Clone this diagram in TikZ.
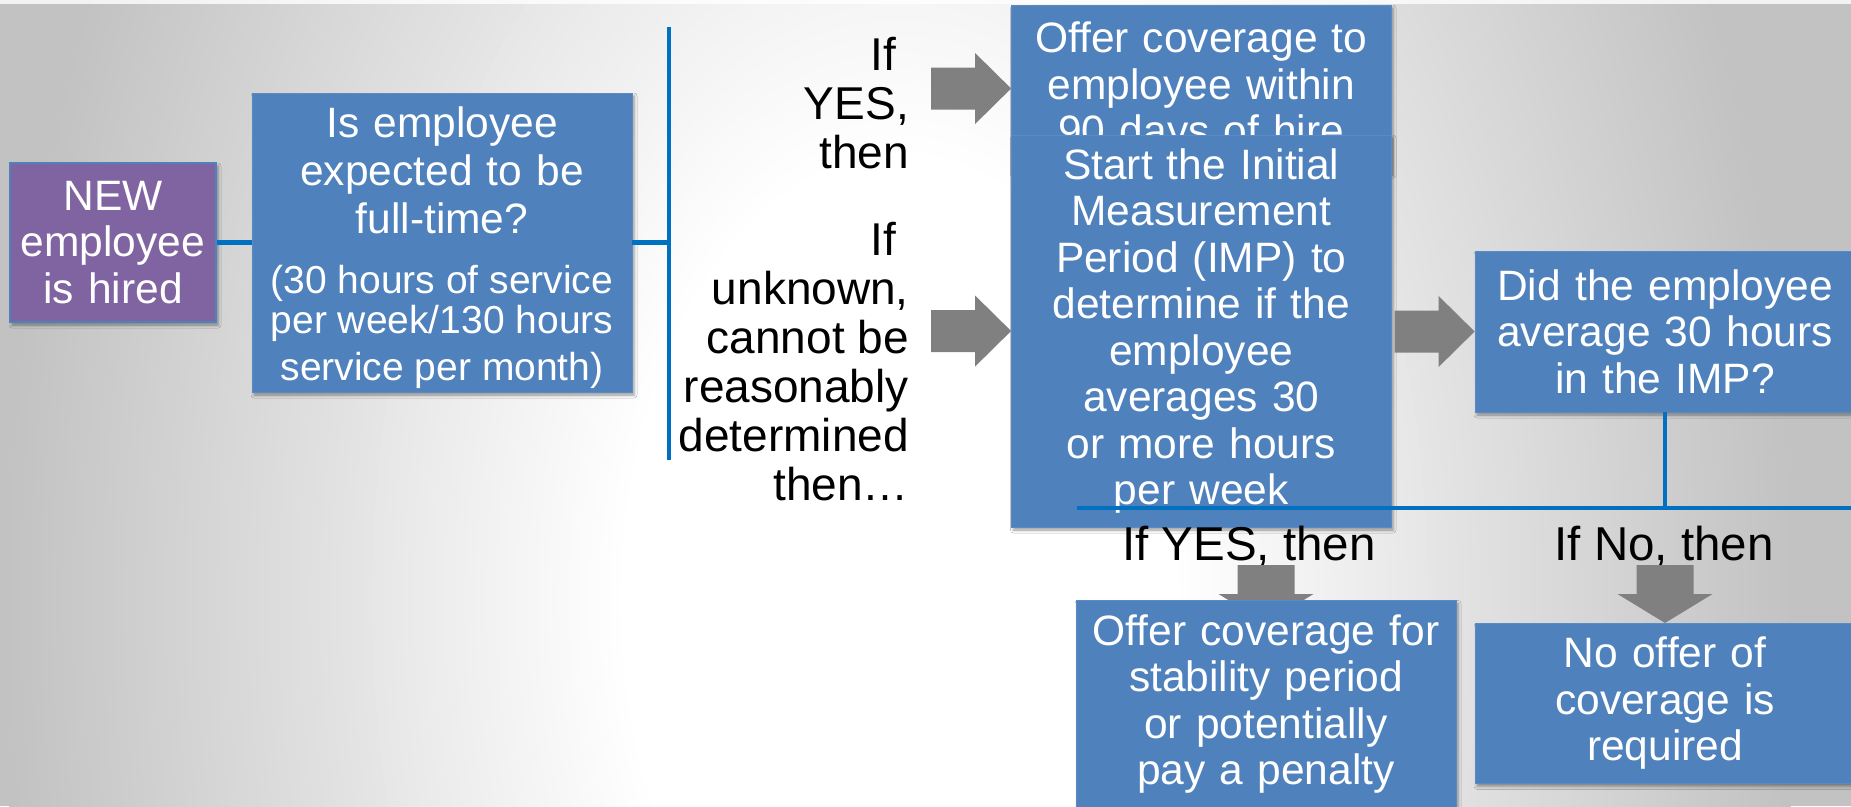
\documentclass[tikz,border=0pt]{standalone}
\usepackage{fontspec}
\setmainfont{Liberation Sans}
\usetikzlibrary{calc,shadows.blur}

\definecolor{boxblue}{HTML}{4F81BD}
\definecolor{boxedge}{HTML}{5B8BC4}
\definecolor{newpurple}{HTML}{8064A2}
\definecolor{linkblue}{HTML}{0070C0}
\definecolor{arrowgrey}{HTML}{808080}
\definecolor{bggrey}{HTML}{C2C2C2}

\newcommand\boxfont{\fontsize{42.5}{46.5}\selectfont}
\newcommand\labelfont{\fontsize{46}{49}\selectfont}
\newcommand\outfont{\fontsize{47.5}{50}\selectfont}

% grey block arrow pointing right, tip at #1
\newcommand\rblockarrow[1]{%
  \fill[arrowgrey] (#1) ++(-80,-21) -- ++(44,0) -- ++(0,-14.5) -- (#1)
    -- ++(-36,35.5) -- ++(0,-14.5) -- ++(-44,0) -- cycle;}
% grey block arrow pointing down, tip at #1
\newcommand\dblockarrow[1]{%
  \fill[arrowgrey] (#1) ++(-28.5,-58) -- ++(57,0) -- ++(0,29) -- ++(19,0) -- (#1)
    -- ++(-47.5,-29) -- ++(19,0) -- cycle;}

\tikzset{
  card/.style={fill=boxblue, draw=boxedge, line width=0.8pt, inner sep=0pt,
    align=center, text=white, font=\boxfont,
    blur shadow={shadow xshift=2pt, shadow yshift=-3pt, shadow blur radius=3pt, shadow opacity=40}},
  newcard/.style={card, fill=newpurple, draw=boxblue, line width=1.5pt},
  cardtext/.style={inner sep=0pt, align=center, text=white, text width=370pt, font=\boxfont},
  link/.style={draw=linkblue, line width=4.5pt},
  lbl/.style={inner sep=0pt, align=right, font=\labelfont, text=black},
  outlbl/.style={inner sep=0pt, font=\outfont, text=black, anchor=base},
}

\begin{document}
\begin{tikzpicture}[x=1pt, y=-1pt]
\useasboundingbox (0,0) rectangle (1851,806);

% background: grey edges fading to a white glow (stacked ellipses)
\begin{scope}
  \clip (0,0) rectangle (1851,806);
  \fill[bggrey] (0,0) rectangle (1851,806);
  \foreach \i in {0,...,60} {
    \pgfmathsetmacro\rx{900-\i*10.3333}
    \pgfmathsetmacro\ry{1.6*\rx}
    \pgfmathsetmacro\kx{0.5523*\rx}
    \pgfmathsetmacro\ky{0.5523*\ry}
    \pgfmathsetmacro\mix{100-\i*1.66667}
    \fill[bggrey!\mix!white]
      (900+\rx,600) .. controls (900+\rx,600+\ky) and (900+\kx,600+\ry) .. (900,600+\ry)
      .. controls (900-\kx,600+\ry) and (900-\rx,600+\ky) .. (900-\rx,600)
      .. controls (900-\rx,600-\ky) and (900-\kx,600-\ry) .. (900,600-\ry)
      .. controls (900+\kx,600-\ry) and (900+\rx,600-\ky) .. (900+\rx,600) -- cycle;
  }
  \fill[white, opacity=0.8] (0,0) rectangle (1851,4);
\end{scope}

% first decision
\coordinate (splitTop) at (669,27);
\coordinate (splitBot) at (669,460);
\draw[link] (splitTop) -- (splitBot);

\node[newcard, minimum width=206pt, minimum height=159pt, text width=196pt] (new) at (113,242.5)
  {NEW\\employee\\is hired};
\node[card, minimum width=380pt, minimum height=299pt] (ask) at (442,242.5) {};
\node[cardtext] (askText) at ($(ask.center)+(0,5)$)
  {\fontsize{42.5}{48}\selectfont Is employee\\expected to be\\full-time?\par
   \vspace{20pt}\fontsize{39}{40}\selectfont\spaceskip=0.278em\relax
   (30 hours of service\\per week/130 hours\\service per month)};
\draw[link] (new.east) -- (ask.west);
\draw[link] (ask.east) -- (ask.east -| splitTop);

\node[lbl, anchor=east] (ifyes) at (909,103) {If\hspace*{0.28em}\\YES,\\then};
\node[lbl, anchor=east] (ifunk) at (909,362)
  {If\hspace*{0.28em}\\unknown,\\cannot be\\reasonably\\determined\\then…};

% outcomes of the first decision
\node[card, minimum width=379.5pt, minimum height=167pt, text width=369pt] (offer) at (1201.25,88.5)
  {Offer coverage to\\employee within\\90 days of hire};
\node[card, minimum width=379.5pt, minimum height=392pt, text width=369pt] (imp) at (1201.25,331)
  {Start the Initial\\Measurement\\Period (IMP) to\\determine if the\\employee\\averages 30\\or more hours\\per week};
\rblockarrow{offer.west}
\rblockarrow{imp.west}

% second decision
\node[card, minimum width=380pt, minimum height=161pt, text width=370pt] (did) at (1665,331.5)
  {Did the employee\\average 30 hours\\in the IMP?};
\rblockarrow{did.west}

\coordinate (outL) at (1077,508);
\coordinate (outR) at (1860,508);
\draw[link] (did.south) -- (did.south |- outL);
\draw[link] (outL) -- (outR);

\node[outlbl] (yeslbl) at (1249,560) {If YES, then};
\node[outlbl] (nolbl) at (1664,560) {If No, then};

% down arrows sit beneath the boxes they point into
\coordinate (coverTop) at (1266,600);
\coordinate (noTop) at (1665,623);
\coordinate (coverTip) at ($(coverTop)+(0,23)$);
\dblockarrow{coverTip}
\dblockarrow{noTop}

\node[card, anchor=north, minimum width=380pt, minimum height=207pt, text width=370pt] (cover) at (coverTop)
  {Offer coverage for\\stability period\\or potentially\\pay a penalty};
\node[card, anchor=north, minimum width=380pt, minimum height=160pt, text width=370pt] (nooffer) at (noTop)
  {No offer of\\coverage is\\required};
\end{tikzpicture}
\end{document}
